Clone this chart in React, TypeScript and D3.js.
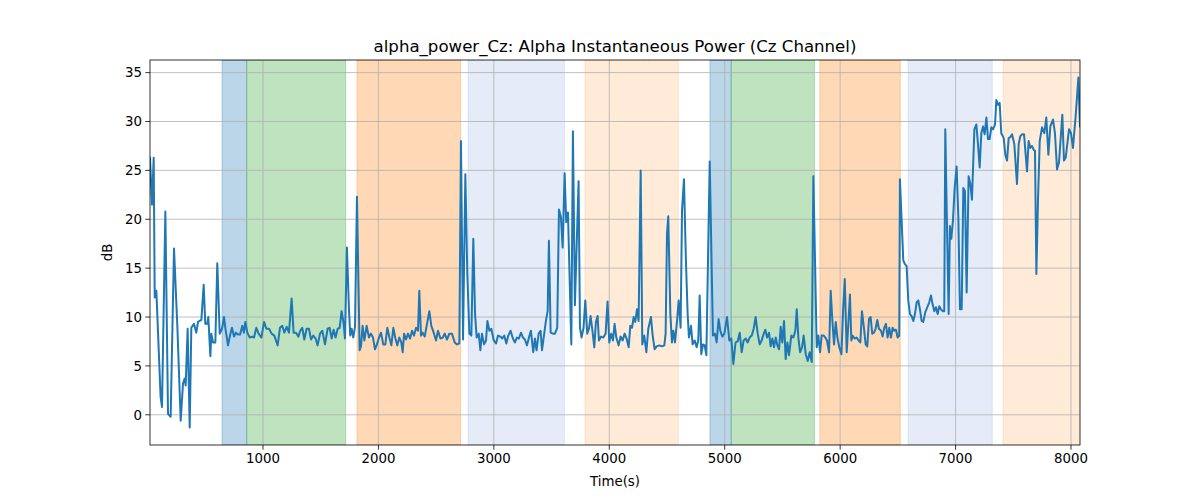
import * as d3 from 'd3';

// sample times (s) and alpha power (dB)
const times = [
  21, 38, 53, 62, 76, 113, 125, 154, 177, 200, 229, 258, 287, 307, 321, 330, 347, 365, 379, 402, 422,
  437, 466, 486, 500, 518, 526, 544, 552, 567, 587, 604, 625, 645, 662, 677, 697, 714, 731, 749, 766,
  783, 801, 821, 835, 847, 864, 885, 905, 922, 942, 962, 986, 1009, 1029,
  1052, 1075, 1098, 1127, 1147, 1167, 1185, 1205, 1225, 1248, 1265, 1286, 1306, 1323, 1340, 1358,
  1378, 1398, 1416, 1436, 1456, 1473, 1494, 1514, 1537, 1560, 1577, 1595, 1612, 1629, 1647, 1664,
  1681, 1699, 1710, 1727, 1745, 1756, 1768, 1782, 1797, 1814, 1826, 1837, 1849, 1863, 1878, 1898,
  1918, 1935, 1953, 1970, 1987, 2005, 2022, 2042,
  2060, 2077, 2095, 2112, 2129, 2147, 2164, 2181, 2198, 2210, 2222, 2239, 2256, 2274, 2291, 2308,
  2326, 2343, 2354, 2369, 2383, 2401, 2421, 2441, 2458, 2479, 2499, 2516, 2537, 2557, 2574, 2594,
  2614, 2637, 2661, 2681, 2701, 2715, 2733, 2753, 2770, 2788, 2805, 2822, 2837, 2851, 2869, 2883,
  2897, 2915, 2932, 2944, 2961, 2978, 2999, 3019, 3036, 3056,
  3073, 3090, 3108, 3125, 3145, 3165, 3183, 3200, 3217, 3235, 3252, 3269, 3287, 3304, 3321, 3341,
  3356, 3370, 3388, 3405, 3417, 3434, 3451, 3466, 3477, 3492, 3512, 3529, 3549, 3564, 3581, 3596,
  3613, 3627, 3642, 3671, 3685, 3702, 3734, 3746, 3760, 3777, 3792, 3809, 3824, 3838, 3853, 3870,
  3884, 3899, 3910, 3928, 3948, 3968, 3985, 4000, 4017, 4032, 4046, 4061,
  4081, 4098, 4116, 4133, 4150, 4168, 4182, 4197, 4211, 4225, 4240, 4254, 4272, 4286, 4303, 4321,
  4338, 4361, 4376, 4393, 4410, 4433, 4457, 4477, 4488, 4500, 4511, 4529, 4543, 4555, 4569, 4587,
  4601, 4618, 4630, 4647, 4664, 4679, 4690, 4708, 4722, 4740, 4757, 4771, 4783, 4797, 4812, 4826,
  4841, 4870, 4898, 4916, 4930, 4947, 4962, 4979, 4997, 5020, 5040, 5057, 5075, 5092,
  5095, 5112, 5130, 5147, 5164, 5182, 5199, 5216, 5234, 5251, 5268, 5286, 5303, 5320, 5338, 5352,
  5367, 5384, 5398, 5413, 5427, 5442, 5456, 5471, 5485, 5499, 5514, 5528, 5543, 5557, 5577, 5595,
  5612, 5624, 5638, 5653, 5670, 5684, 5702, 5719, 5736, 5754, 5768, 5797, 5811, 5826, 5840, 5858,
  5872, 5886, 5904, 5918, 5933, 5947, 5962, 5976, 5993, 6011, 6025, 6040, 6057, 6071, 6085,
  6097, 6108, 6125, 6143, 6160, 6175, 6189, 6206, 6221, 6235, 6250, 6264, 6278, 6293, 6307, 6322,
  6336, 6354, 6368, 6382, 6397, 6411, 6426, 6440, 6455, 6469, 6484, 6498, 6512, 6518, 6533, 6547,
  6562, 6576, 6590, 6605, 6619, 6634, 6648, 6663, 6677, 6691, 6706, 6720, 6738, 6755, 6772, 6787,
  6801, 6816, 6830, 6845, 6859, 6873, 6888, 6902, 6911, 6925, 6940, 6951, 6963, 6977, 6992, 7009,
  7024, 7038, 7053, 7067, 7081, 7096, 7113,
  7128, 7142, 7163, 7180, 7194, 7209, 7223, 7238, 7252, 7267, 7281, 7295, 7310, 7324, 7342, 7353,
  7368, 7382, 7396, 7417, 7431, 7446, 7460, 7474, 7489, 7509, 7532, 7547, 7561, 7578, 7593, 7619,
  7633, 7648, 7662, 7677, 7688, 7700, 7714, 7729, 7749, 7769, 7786, 7804, 7821, 7844, 7861, 7879,
  7896, 7925, 7939, 7954, 7983, 8000, 8017, 8040, 8064, 8078,
];

const powerDb = [
  26.3, 21.5, 26.3, 12.0, 12.7, 1.8, 0.8, 20.8, 0.1, -0.2, 17.0, 9.0, -0.6, 3.2, 3.7, 3.0, 8.8, -1.3, 8.9, 9.3, 8.4,
  9.5, 9.7, 13.3, 9.3, 9.3, 10.0, 6.0, 8.3, 7.4, 7.4, 15.5, 8.3, 8.8, 10.0, 8.6, 7.1, 8.1, 8.9, 8.0, 8.4,
  8.2, 8.2, 9.1, 8.4, 9.5, 8.4, 7.9, 8.0, 7.9, 8.9, 8.3, 7.9, 9.5, 8.8,
  8.8, 8.3, 8.1, 7.1, 8.9, 9.1, 8.4, 9.0, 8.4, 11.9, 8.4, 8.4, 8.0, 8.6, 8.9, 7.7,
  8.8, 8.8, 7.7, 8.1, 7.8, 7.1, 8.3, 8.6, 7.2, 8.8, 8.9, 7.8, 8.7, 7.9, 8.8, 8.9,
  10.6, 9.3, 7.8, 17.1, 10.7, 8.1, 8.8, 7.9, 9.0, 22.3, 14.0, 6.6, 7.0, 9.1, 7.6, 9.1,
  7.9, 8.3, 7.9, 6.7, 7.2, 7.9, 8.4, 7.2,
  7.2, 8.9, 7.9, 7.1, 8.9, 7.8, 7.1, 7.9, 7.4, 6.4, 8.3, 7.7, 8.3, 7.8, 8.6, 8.1,
  8.9, 8.6, 12.7, 8.1, 8.4, 8.0, 9.3, 10.6, 9.1, 8.4, 7.6, 8.6, 7.8, 7.9, 8.3, 7.7,
  8.3, 8.3, 7.4, 7.2, 7.3, 28.0, 7.7, 24.6, 14.4, 8.3, 8.1, 18.0, 10.3, 7.9, 8.3, 6.6,
  8.3, 7.2, 7.6, 9.6, 8.6, 8.8, 7.6, 7.3, 8.1, 8.0,
  7.8, 8.1, 7.3, 8.1, 8.6, 7.8, 7.4, 7.9, 7.8, 8.4, 7.9, 7.7, 7.1, 7.9, 8.6, 6.4,
  7.8, 6.6, 8.3, 8.6, 6.6, 8.1, 9.6, 10.6, 17.8, 8.4, 8.3, 8.3, 8.9, 21.0, 20.2, 17.1,
  24.7, 19.7, 20.7, 7.2, 29.0, 11.2, 23.9, 8.9, 7.9, 8.9, 11.7, 8.3, 8.8, 10.1, 8.7, 6.9,
  9.5, 10.1, 7.6, 8.0, 7.9, 8.3, 11.6, 7.4, 8.3, 7.6, 9.3, 7.9,
  7.1, 8.0, 7.6, 8.3, 7.8, 6.9, 9.1, 8.9, 10.0, 9.5, 10.8, 9.6, 25.0, 7.2, 8.1, 6.4,
  8.8, 10.0, 8.1, 6.7, 7.0, 7.1, 7.0, 7.1, 8.3, 18.5, 20.3, 10.3, 7.4, 8.6, 7.4, 9.6,
  11.7, 8.9, 20.9, 24.1, 15.7, 10.3, 7.9, 9.1, 7.2, 7.6, 6.9, 7.6, 12.2, 6.2, 7.2, 7.1,
  6.1, 25.9, 8.1, 8.3, 7.4, 9.8, 8.6, 8.0, 8.3, 10.0, 7.6, 7.8, 5.2, 7.2,
  7.4, 7.5, 8.4, 6.4, 7.6, 7.8, 7.4, 7.9, 8.1, 8.8, 10.0, 8.3, 7.2, 7.6, 8.3, 8.7,
  7.9, 8.4, 7.0, 7.8, 6.9, 7.9, 7.1, 6.7, 9.0, 7.4, 9.6, 5.7, 7.4, 6.1, 8.1, 7.9,
  8.6, 10.8, 7.9, 6.4, 6.9, 8.1, 6.2, 5.5, 6.4, 5.4, 24.4, 6.9, 8.1, 6.4, 8.1, 8.1,
  7.9, 7.6, 6.4, 12.7, 9.6, 7.2, 9.5, 7.9, 6.9, 6.2, 10.5, 13.9, 6.4, 9.3, 12.3,
  7.6, 8.1, 7.8, 7.9, 7.6, 7.4, 10.6, 8.9, 7.2, 7.0, 9.8, 10.0, 8.3, 8.4, 8.8, 9.7,
  8.8, 8.6, 8.0, 8.9, 9.3, 7.9, 8.9, 7.9, 8.9, 8.6, 8.7, 7.9, 8.1, 24.1, 19.8, 15.8,
  15.4, 15.2, 11.7, 10.3, 10.1, 9.6, 10.3, 11.5, 11.7, 10.8, 9.6, 9.5, 10.5, 11.0, 11.5, 12.2,
  11.3, 10.6, 11.0, 10.3, 11.1, 10.8, 10.6, 10.6, 29.2, 19.8, 10.3, 19.3, 18.0, 19.8, 23.2, 25.4,
  20.2, 10.8, 10.8, 23.2, 22.9, 12.5, 24.4,
  23.6, 22.0, 29.2, 29.7, 27.7, 25.3, 28.8, 29.5, 28.7, 30.4, 28.2, 28.2, 29.4, 29.2, 29.7, 32.2,
  31.7, 31.9, 28.8, 28.3, 26.6, 26.0, 28.3, 28.4, 28.7, 27.7, 23.6, 27.7, 28.5, 28.7, 28.7, 24.9,
  28.0, 27.3, 27.5, 27.1, 27.0, 14.4, 21.9, 28.0, 29.4, 28.8, 30.4, 26.6, 29.5, 30.2, 28.8, 25.1,
  25.8, 30.7, 26.0, 26.3, 29.2, 28.8, 27.3, 30.5, 34.5, 29.5,
];

// shaded phases along the time axis
const spanStart = [645, 859, 1814, 2776, 3789, 4872, 5056, 5824, 6589, 7411];
const spanEnd = [859, 1716, 2711, 3611, 4598, 5056, 5777, 6521, 7318, 8200];
const spanPhase = ['A', 'B', 'C', 'D', 'E', 'A', 'B', 'C', 'D', 'E'];

const xTicks = [1000, 2000, 3000, 4000, 5000, 6000, 7000, 8000];
const yTicks = [0, 5, 10, 15, 20, 25, 30, 35];

const phaseStyle: Record<string, { color: string; opacity: number }> = {
  A: { color: '#1f77b4', opacity: 0.3 },
  B: { color: '#2ca02c', opacity: 0.3 },
  C: { color: '#ff7f0e', opacity: 0.3 },
  D: { color: '#4f7fcf', opacity: 0.15 },
  E: { color: '#fd9a3c', opacity: 0.2 },
};

const W = 1200;
const H = 500;
const margin = { top: 60, right: 120, bottom: 55, left: 150 };
const FONT = '"DejaVu Sans", Verdana, sans-serif';

export default function App() {
  const innerW = W - margin.left - margin.right;
  const innerH = H - margin.top - margin.bottom;

  const data = times.map((t, i) => [t, powerDb[i]] as [number, number]);

  const x = d3.scaleLinear()
    .domain(d3.extent(times) as [number, number])
    .range([0, innerW]);

  const [lo, hi] = d3.extent(powerDb) as [number, number];
  const pad = (hi - lo) * 0.05;
  const y = d3.scaleLinear()
    .domain([lo - pad, hi + pad])
    .range([innerH, 0]);

  const line = d3.line<[number, number]>()
    .x(d => x(d[0]))
    .y(d => y(d[1]));

  return (
    <svg width={W} height={H} style={{ position: 'absolute', left: 0, top: 0, background: '#fff' }}
      fontFamily={FONT}>
      <defs>
        <clipPath id="plot-clip">
          <rect x={0} y={0} width={innerW} height={innerH} />
        </clipPath>
      </defs>
      <text x={margin.left + innerW / 2} y={52} textAnchor="middle" fontSize={16.6} fill="#000">
        alpha_power_Cz: Alpha Instantaneous Power (Cz Channel)
      </text>
      <g transform={`translate(${margin.left},${margin.top})`}>
        <g clipPath="url(#plot-clip)">
          {spanStart.map((s, i) => {
            const st = phaseStyle[spanPhase[i]];
            return (
              <rect key={`span-${i}`}
                x={x(s)} y={0}
                width={x(spanEnd[i]) - x(s)} height={innerH}
                fill={st.color} fillOpacity={st.opacity}
                stroke={st.color} strokeOpacity={st.opacity} strokeWidth={1} />
            );
          })}
          {xTicks.map(t => (
            <line key={`gx-${t}`} x1={x(t)} x2={x(t)} y1={0} y2={innerH} stroke="#b0b0b0" strokeWidth={0.8} />
          ))}
          {yTicks.map(t => (
            <line key={`gy-${t}`} x1={0} x2={innerW} y1={y(t)} y2={y(t)} stroke="#b0b0b0" strokeWidth={0.8} />
          ))}
          <path d={line(data) ?? ''} fill="none" stroke="#1f77b4" strokeWidth={2}
            strokeLinejoin="round" strokeLinecap="square" />
        </g>
        <rect x={0} y={0} width={innerW} height={innerH} fill="none" stroke="#000" strokeWidth={0.8} />
        {xTicks.map(t => (
          <g key={`xt-${t}`} transform={`translate(${x(t)},${innerH})`}>
            <line y2={4.7} stroke="#000" strokeWidth={0.8} />
            <text y={18} textAnchor="middle" fontSize={13.33} fill="#000">{t}</text>
          </g>
        ))}
        {yTicks.map(t => (
          <g key={`yt-${t}`} transform={`translate(0,${y(t)})`}>
            <line x2={-4.7} stroke="#000" strokeWidth={0.8} />
            <text x={-8} dy="0.36em" textAnchor="end" fontSize={13.33} fill="#000">{t}</text>
          </g>
        ))}
        <text x={innerW / 2} y={innerH + 41} textAnchor="middle" fontSize={13.33} fill="#000">Time(s)</text>
        <text transform={`translate(-38,${innerH / 2}) rotate(-90)`} textAnchor="middle" fontSize={13.33} fill="#000">dB</text>
      </g>
    </svg>
  );
}
